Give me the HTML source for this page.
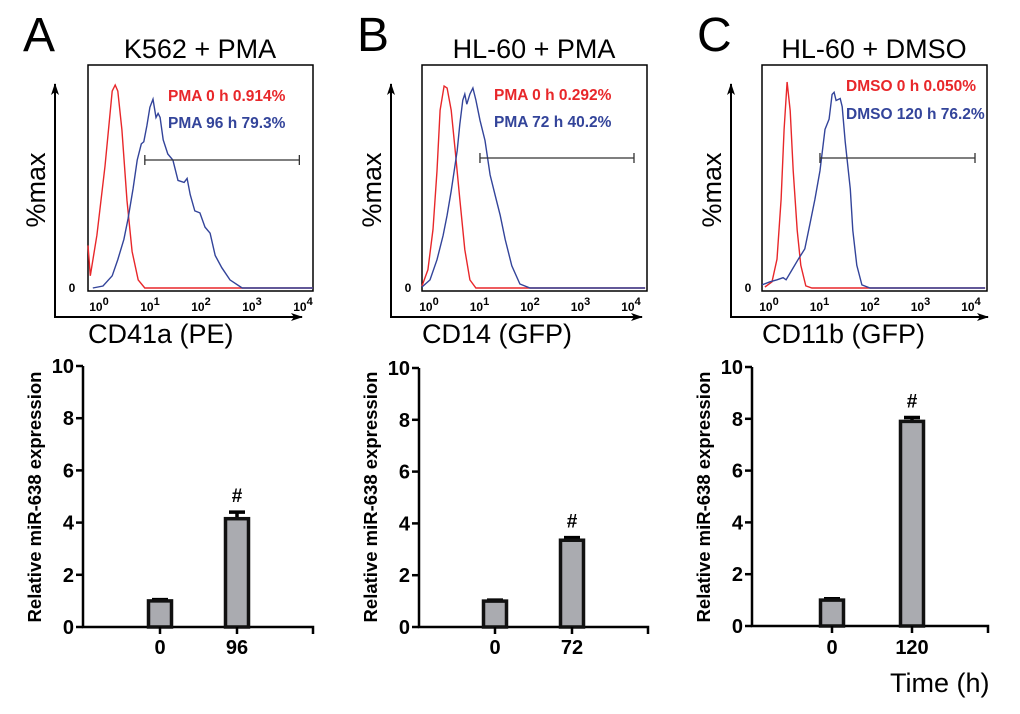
<!DOCTYPE html>
<html><head><meta charset="utf-8">
<style>
html,body{margin:0;padding:0;background:#fff;}
svg{display:block;font-family:"Liberation Sans",Arial,sans-serif;}
</style></head>
<body>
<svg id="fig" width="1020" height="714" viewBox="0 0 1020 714" xmlns="http://www.w3.org/2000/svg">
<defs>
<marker id="arr" viewBox="0 0 12 8" refX="11" refY="4" markerWidth="12" markerHeight="8" markerUnits="userSpaceOnUse" orient="auto"><path d="M0,0 L12,4 L0,8 L3,4 z" fill="#000"/></marker>
</defs>
</svg>
<script>
// ---- histogram data: [decade (log10 value), %max] ----
const redA=[[-0.3,21],[-0.25,6],[-0.12,26],[0.04,60],[0.18,97],[0.24,100],[0.29,97],[0.37,78],[0.47,43],[0.57,18],[0.69,4],[0.82,0],[4.2,0]];
const blueA=[[-0.2,0],[0,1],[0.18,6],[0.29,14],[0.41,24],[0.49,34],[0.59,49],[0.67,63],[0.75,71],[0.8,72],[0.86,80],[0.92,89],[0.98,93],[1.04,84],[1.08,86],[1.12,84],[1.18,73],[1.27,66],[1.37,63],[1.47,53],[1.59,52],[1.65,54],[1.71,46],[1.8,38],[1.9,37],[2,30],[2.1,27],[2.2,16],[2.33,10],[2.49,4],[2.73,0],[4.2,0]];
const redB=[[-0.22,1],[-0.1,9],[0,29],[0.08,58],[0.14,88],[0.22,100],[0.28,99],[0.36,88],[0.44,68],[0.53,44],[0.63,19],[0.73,4],[0.85,0],[4.2,0]];
const blueB=[[-0.22,0.5],[-0.06,4],[0.08,14],[0.2,26],[0.28,36],[0.36,48],[0.42,58],[0.48,68],[0.53,81],[0.59,93],[0.63,96],[0.67,91],[0.73,96],[0.79,99],[0.85,93],[0.93,83],[1.03,73],[1.13,56],[1.23,46],[1.33,36],[1.43,24],[1.56,11],[1.72,2],[1.92,0],[4.2,0]];
const redC=[[-0.16,0.5],[-0.02,3],[0.08,14],[0.16,43],[0.22,77],[0.28,100],[0.34,86],[0.4,57],[0.48,28],[0.55,11],[0.65,1],[0.77,0],[4.2,0]];
const blueC=[[-0.22,1.5],[-0.06,3],[0.08,4],[0.2,5],[0.26,4],[0.38,9],[0.5,14],[0.63,19],[0.73,31],[0.83,43],[0.93,57],[1.03,77],[1.11,82],[1.17,94],[1.21,95],[1.25,91],[1.33,92],[1.37,88],[1.43,71],[1.53,48],[1.58,28],[1.66,11],[1.76,1.5],[1.92,0],[4.2,0]];
const decadeTicks=[0,1,2,3,4];
const gateA=[0.82,3.85], gateB=[0.93,3.98], gateC=[0.93,4.0];
// ---- bar data ----
const barCats=[["0","96"],["0","72"],["0","120"]];
const barVals=[[1.0,4.15],[1.0,3.35],[1.0,7.9]];
const barErr=[[0.05,0.25],[0.04,0.1],[0.05,0.15]];
const yTicks=[0,2,4,6,8,10];

const svg=document.getElementById('fig');
const NS='http://www.w3.org/2000/svg';
function mk(tag,attrs,parent){const e=document.createElementNS(NS,tag);for(const k in attrs)e.setAttribute(k,attrs[k]);(parent||svg).appendChild(e);return e;}
function txt(s,attrs,parent){const e=mk('text',attrs,parent);e.textContent=s;return e;}

const panels=[
 {letter:'A',title:'K562 + PMA',xlab:'CD41a (PE)',box:88,zero:103,sc:51,peak:85,red:redA,blue:blueA,gate:gateA,gy:160,
  rl:'PMA 0 h 0.914%',bl:'PMA 96 h 79.3%',lx:168,ly1:101,ly2:128,ax:55,arrEnd:302,
  bax:83,cx:[160,237],y10:366,y0:627,bend:313},
 {letter:'B',title:'HL-60 + PMA',xlab:'CD14 (GFP)',box:422,zero:433,sc:50.5,peak:86,red:redB,blue:blueB,gate:gateB,gy:158,
  rl:'PMA 0 h 0.292%',bl:'PMA 72 h 40.2%',lx:494,ly1:100,ly2:127,ax:391,arrEnd:642,
  bax:419,cx:[495,572],y10:368,y0:627,bend:648},
 {letter:'C',title:'HL-60 + DMSO',xlab:'CD11b (GFP)',box:762,zero:773,sc:50.5,peak:82,red:redC,blue:blueC,gate:gateC,gy:158,
  rl:'DMSO 0 h 0.050%',bl:'DMSO 120 h 76.2%',lx:846,ly1:91,ly2:119,ax:731,arrEnd:988,
  bax:752,cx:[832,912],y10:367,y0:626,bend:988}
];

panels.forEach((p,i)=>{
  const g=mk('g',{});
  
  
  const L=txt(p.letter,{x:p.box-65,y:51,'font-size':48},g);
  
  
  const T=txt(p.title,{x:p.box+112,y:58,'font-size':27,'text-anchor':'middle'},g);
  
  
  const box=mk('rect',{x:p.box,y:65,width:225,height:226,fill:'none',stroke:'#000','stroke-width':1.5},g);
  
  
  const base=288;
  const xs=d=>p.zero+p.sc*d;
  const ys=v=>base-(base-p.peak)*v/100;
  [['red',p.red,'#e8272a'],['blue',p.blue,'#33449a']].forEach(([nm,arr,col])=>{
    const pts=arr.map(q=>[Math.max(p.box,Math.min(p.box+225,xs(q[0]))),ys(q[1])]);
    const pl=mk('polyline',{points:pts.map(q=>q[0].toFixed(1)+','+q[1].toFixed(1)).join(' '),fill:'none',stroke:col,'stroke-width':1.4},g);
    
    
  });
  const gl=mk('path',{d:`M${xs(p.gate[0])},${p.gy}H${xs(p.gate[1])}M${xs(p.gate[0])},${p.gy-5}v10M${xs(p.gate[1])},${p.gy-5}v10`,stroke:'#333','stroke-width':1.3,fill:'none'},g);
  
  
  const r=txt(p.rl,{x:p.lx,y:p.ly1,'font-size':15.5,'font-weight':'bold',fill:'#e8272a'},g);
  
  
  const b=txt(p.bl,{x:p.lx,y:p.ly2,'font-size':15.5,'font-weight':'bold',fill:'#33449a'},g);
  
  
  const ya=mk('line',{x1:p.ax,y1:317,x2:p.ax,y2:84,stroke:'#000','stroke-width':2,'marker-end':'url(#arr)'},g);
  
  
  const xa=mk('line',{x1:p.ax-1,y1:317,x2:p.arrEnd,y2:317,stroke:'#000','stroke-width':2,'marker-end':'url(#arr)'},g);
  
  
  const yl=txt('%max',{x:0,y:0,'font-size':27,'text-anchor':'middle',transform:`translate(${p.ax-10},190) rotate(-90)`},g);
  
  
  const z=txt('0',{x:p.ax+17,y:292,'font-size':12,'font-weight':'bold','text-anchor':'middle'},g);
  
  
  decadeTicks.forEach(d=>{
    const t=mk('text',{x:xs(d)-4,y:311,'font-size':12,'font-weight':'bold','text-anchor':'middle'},g);
    
    
    t.appendChild(document.createTextNode('10'));
    const s=mk('tspan',{dy:-6,'font-size':11},t);s.textContent=String(d);
  });
  const xl=txt(p.xlab,{x:p.box,y:343,'font-size':27},g);
  
  

  // ---- bar chart ----
  const bg=mk('g',{});
  
  
  const yv=v=>p.y0-(p.y0-p.y10)*v/10;
  const ax=mk('path',{d:`M${p.bax},${p.y10}V${p.y0}H${p.bend}v7`,stroke:'#000','stroke-width':2.5,fill:'none'},bg);
  
  
  yTicks.forEach(v=>{
    const tk=mk('line',{x1:p.bax-7,y1:yv(v),x2:p.bax,y2:yv(v),stroke:'#000','stroke-width':2.5},bg);
    
    
    const tl=txt(String(v),{x:p.bax-9,y:yv(v)+7,'font-size':20,'font-weight':'bold','text-anchor':'end'},bg);
    
    
  });
  barVals[i].forEach((v,j)=>{
    const cx=p.cx[j];
    const e=barErr[i][j];
    const er=mk('path',{d:`M${cx},${yv(v)}V${yv(v+e)}M${cx-8},${yv(v+e)}h16`,stroke:'#000','stroke-width':3.5,fill:'none'},bg);
    
    
    const bar=mk('rect',{x:cx-11.5,y:yv(v),width:23,height:p.y0-yv(v),fill:'#aaabb0',stroke:'#111','stroke-width':3.5},bg);
    
    
    const ct=mk('line',{x1:cx,y1:p.y0,x2:cx,y2:p.y0+7,stroke:'#000','stroke-width':2.5},bg);
    
    
    const cl=txt(barCats[i][j],{x:cx,y:654,'font-size':20,'font-weight':'bold','text-anchor':'middle'},bg);
    
    
    if(j===1){
      const h=txt('#',{x:cx,y:yv(v+e)-10,'font-size':19,'font-weight':'bold','text-anchor':'middle'},bg);
      
      
    }
  });
  const yt=txt('Relative miR-638 expression',{x:0,y:0,'font-size':18.5,'font-weight':'bold','text-anchor':'middle',transform:`translate(${p.bax-42},497) rotate(-90)`},bg);
  
  
});
const tm=txt('Time (h)',{x:890,y:692,'font-size':27});


</script>
</body></html>
